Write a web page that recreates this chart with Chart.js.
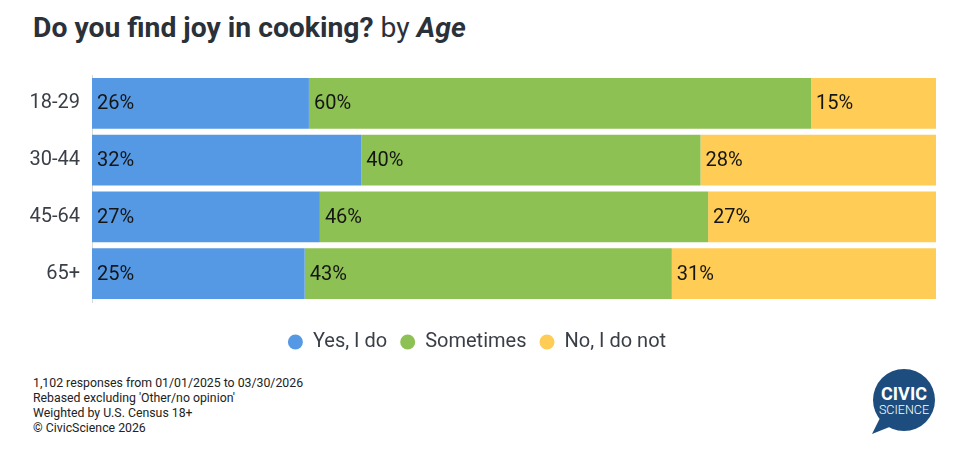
<!DOCTYPE html>
<html>
<head>
<meta charset="utf-8">
<script src="https://cdn.jsdelivr.net/npm/chart.js@4.4.1/dist/chart.umd.min.js"></script>
<style>
  body { margin: 0; background: #fff; font-family: Roboto, "Noto Sans", sans-serif; }
  #wrap { position: relative; width: 966px; height: 464px; overflow: hidden; }
  #titulo { position: absolute; left: 33px; top: 11px; font-size: 28.3px; color: #2b3139; white-space: nowrap; }
  #titulo b { font-weight: 700; }
  #titulo .by { font-weight: 400; }
  #titulo i { font-weight: 700; font-style: italic; }
  #lienzo { position: absolute; left: 0; top: 60px; width: 966px; height: 304px; }
  #notas { position: absolute; left: 33px; top: 376px; font-size: 12.3px; line-height: 15px; color: #222; }
  #logo { position: absolute; left: 866px; top: 366px; }
</style>
</head>
<body>
<div id="wrap">
  <div id="titulo"><b>Do you find joy in cooking?</b> <span class="by">by</span> <i>Age</i></div>
  <div id="lienzo"><canvas id="graficoAlegria"></canvas></div>
  <div id="notas">
    1,102 responses from 01/01/2025 to 03/30/2026<br>
    Rebased excluding 'Other/no opinion'<br>
    Weighted by U.S. Census 18+<br>
    © CivicScience 2026
  </div>
  <svg id="logo" width="76" height="70" viewBox="0 0 76 70">
    <path d="M14 52 L6 68 L26 60 Z" fill="#1d4d7e"/>
    <circle cx="38" cy="34" r="31" fill="#1d4d7e"/>
    <text x="38" y="34" text-anchor="middle" font-family="Roboto, sans-serif" font-weight="700" font-size="18" fill="#fff">CIVIC</text>
    <text x="38" y="48" text-anchor="middle" font-family="Roboto, sans-serif" font-weight="300" font-size="12.5" fill="#fff">SCIENCE</text>
  </svg>
</div>
<script>
// Datos (porcentajes)
const grupos = ["18-29", "30-44", "45-64", "65+"];
const siLoHago = [25.7, 31.9, 27.0, 25.2];
const aVeces = [59.5, 40.2, 46.0, 43.5];
const noLoHago = [14.8, 27.9, 27.0, 31.3];
const etiquetasSi = ["26%", "32%", "27%", "25%"];
const etiquetasAVeces = ["60%", "40%", "46%", "43%"];
const etiquetasNo = ["15%", "28%", "27%", "31%"];

// etiquetas dentro de cada barra, al inicio
const etiquetasBarras = {
    id: "etiquetasBarras",
    afterDatasetsDraw(chart) {
        const ctx = chart.ctx;
        ctx.save();
        ctx.font = "20px Roboto, sans-serif";
        ctx.fillStyle = "#151515";
        ctx.textAlign = "left";
        ctx.textBaseline = "middle";
        chart.data.datasets.forEach((ds, i) => {
            chart.getDatasetMeta(i).data.forEach((bar, j) => {
                const inicio = Math.min(bar.x, bar.base);
                ctx.fillText(ds.etiquetas[j], inicio + 5, bar.y + 1);
            });
        });
        ctx.restore();
    }
};

new Chart(document.getElementById("graficoAlegria"), {
    type: "bar",
    data: {
        labels: grupos,
        datasets: [
            { label: "Yes, I do", data: siLoHago, etiquetas: etiquetasSi, backgroundColor: "#5599e4" },
            { label: "Sometimes", data: aVeces, etiquetas: etiquetasAVeces, backgroundColor: "#8ec153" },
            { label: "No, I do not", data: noLoHago, etiquetas: etiquetasNo, backgroundColor: "#ffcc55" }
        ]
    },
    options: {
        indexAxis: "y",
        responsive: true,
        maintainAspectRatio: false,
        animation: false,
        layout: { padding: { top: 15, right: 30, bottom: 2, left: 18 } },
        datasets: { bar: { barPercentage: 0.893, categoryPercentage: 1, borderWidth: 0 } },
        scales: {
            x: {
                stacked: true, min: 0, max: 100,
                grid: { display: false }, border: { display: false },
                ticks: { display: false },
                afterFit(scale) { scale.height = 17; }
            },
            y: {
                stacked: true,
                grid: { display: false, drawTicks: false },
                border: { display: true, color: "#d9d9d9", width: 1 },
                ticks: { color: "#3a3f47", font: { size: 20, family: "Roboto" }, padding: 12 },
                afterFit(scale) {
                    scale.width = 74;
                    scale.paddingTop = 0;
                    scale.paddingBottom = 0;
                }
            }
        },
        plugins: {
            tooltip: { enabled: false },
            legend: {
                position: "bottom",
                labels: {
                    usePointStyle: true, pointStyle: "circle",
                    boxHeight: 10.6, pointStyleWidth: 15,
                    padding: 13, color: "#3a3f47",
                    font: { size: 20, family: "Roboto" }
                }
            }
        }
    },
    plugins: [etiquetasBarras]
});
</script>
</body>
</html>
